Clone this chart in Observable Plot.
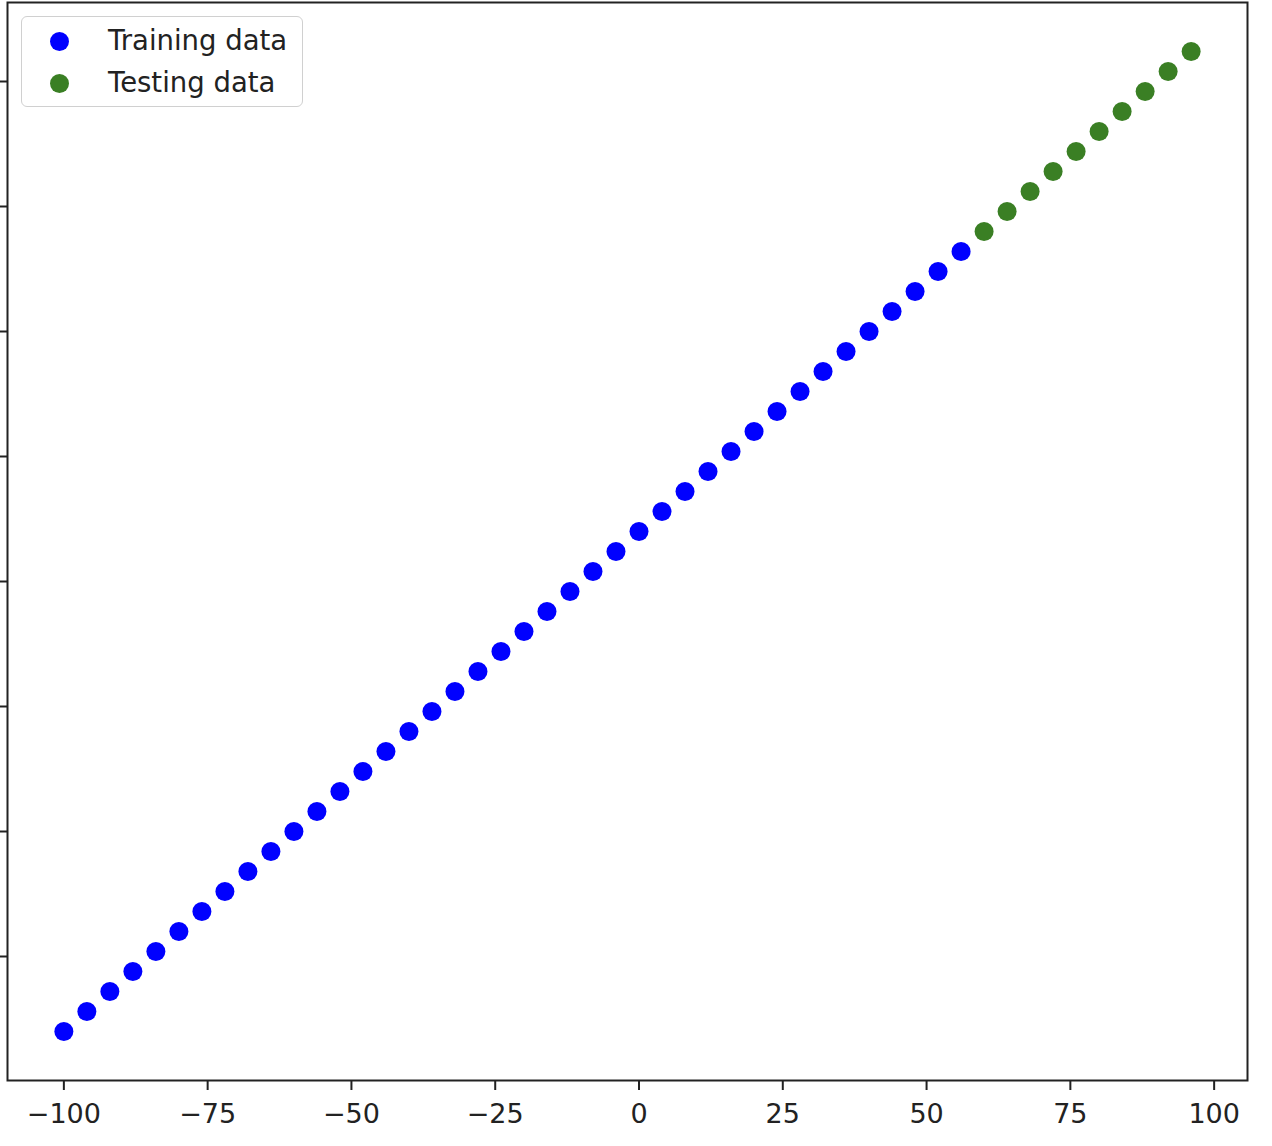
<!DOCTYPE html>
<html>
<head>
<meta charset="utf-8">
<script src="https://cdn.jsdelivr.net/npm/d3@7"></script>
<script src="https://cdn.jsdelivr.net/npm/@observablehq/plot@0.6"></script>
<style>
  html, body { margin: 0; padding: 0; background: #fff; }
  #wrap { position: relative; width: 1272px; height: 1146px; font-family: "DejaVu Sans", sans-serif; }
  #legend {
    position: absolute; left: 21px; top: 16px; width: 280px; height: 89px;
    border: 1.5px solid #d0d0d0; border-radius: 6px; background: rgba(255,255,255,0.8);
    box-sizing: content-box;
  }
  .item { position: absolute; left: 0; height: 30px; display: flex; align-items: center; font-size: 27.5px; color: #222; }
  .dot { position: absolute; width: 19px; height: 19px; border-radius: 50%; left: 28px; }
  .lbl { position: absolute; left: 86px; white-space: nowrap; }
</style>
</head>
<body>
<div id="wrap"></div>
<script>
const xTrain = [-100,-96,-92,-88,-84,-80,-76,-72,-68,-64,-60,-56,-52,-48,-44,-40,-36,-32,-28,-24,-20,-16,-12,-8,-4,0,4,8,12,16,20,24,28,32,36,40,44,48,52,56];
const yTrain = [-90,-86,-82,-78,-74,-70,-66,-62,-58,-54,-50,-46,-42,-38,-34,-30,-26,-22,-18,-14,-10,-6,-2,2,6,10,14,18,22,26,30,34,38,42,46,50,54,58,62,66];
const xTest = [60,64,68,72,76,80,84,88,92,96];
const yTest = [70,74,78,82,86,90,94,98,102,106];
const xTicks = [-100,-75,-50,-25,0,25,50,75,100];
const yTicks = [-75,-50,-25,0,25,50,75,100];
const seriesNames = ["Training data","Testing data"];
const seriesColors = ["#0000ff","#3a7f24"];

const train = xTrain.map((x,i)=>({x, y:yTrain[i]}));
const test = xTest.map((x,i)=>({x, y:yTest[i]}));

const chart = Plot.plot({
  width: 1272, height: 1146,
  marginLeft: 7, marginRight: 25, marginTop: 2, marginBottom: 66,
  style: {fontFamily: "DejaVu Sans, sans-serif", fontSize: "27px", color: "#222", background: "#fff", overflow: "visible"},
  x: {domain: [-109.8, 105.8], ticks: xTicks, tickFormat: d3.format("d"), label: null},
  y: {domain: [-99.8, 115.8], ticks: yTicks, label: null},
  marks: [
    Plot.axisX({ticks: xTicks, tickSize: 10, tickPadding: 13, strokeWidth: 2, stroke: "#222", fill: "#222", label: null, tickFormat: d3.format("d")}),
    Plot.axisY({ticks: yTicks, tickSize: 10, tickFormat: () => "", strokeWidth: 2, stroke: "#222", label: null}),
    Plot.dot(train, {x: "x", y: "y", r: 9.5, fill: seriesColors[0], stroke: "none"}),
    Plot.dot(test, {x: "x", y: "y", r: 9.5, fill: seriesColors[1], stroke: "none"}),
    Plot.frame({stroke: "#222", strokeWidth: 2})
  ]
});
const wrap = document.getElementById("wrap");
wrap.appendChild(chart);
const lg = document.createElement("div");
lg.id = "legend";
seriesNames.forEach((n,i)=>{
  const it = document.createElement("div");
  it.className = "item";
  it.style.top = (8 + i*42) + "px";
  it.style.width = "280px";
  const d = document.createElement("span");
  d.className = "dot"; d.style.background = seriesColors[i];
  d.style.top = "7px";
  const t = document.createElement("span");
  t.className = "lbl"; t.textContent = n;
  it.appendChild(d); it.appendChild(t);
  lg.appendChild(it);
});
wrap.appendChild(lg);
</script>
</body>
</html>
